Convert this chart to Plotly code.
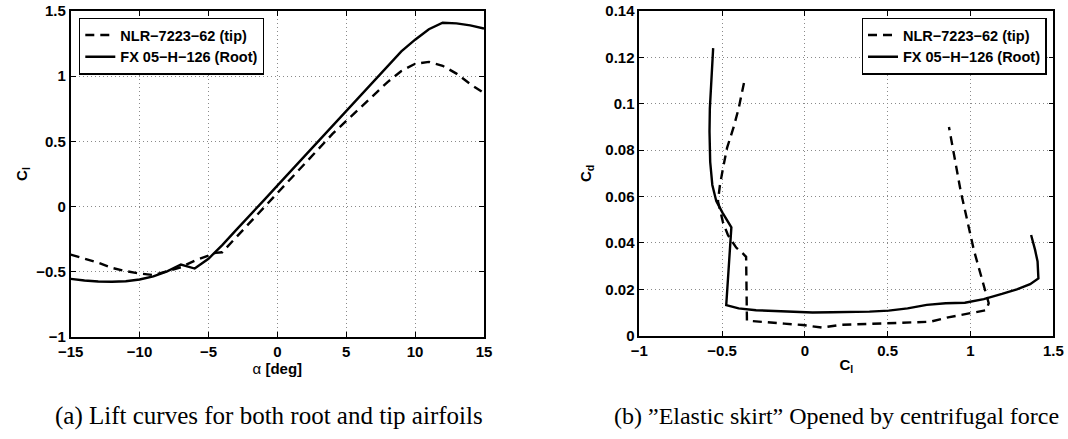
import plotly.graph_objects as go

# ---- data ----
alpha_root = [-15, -14, -13, -12, -11, -10, -9, -8, -7, -6, -5, -4, -3, -2, -1, 0,
              1, 2, 3, 4, 5, 6, 7, 8, 9, 10, 11, 12, 13, 14, 15]
cl_root = [-0.554, -0.567, -0.574, -0.576, -0.572, -0.559, -0.535, -0.497, -0.444, -0.475,
           -0.40, -0.295, -0.18, -0.07, 0.046, 0.161, 0.276, 0.39, 0.506, 0.62, 0.736,
           0.85, 0.966, 1.08, 1.19, 1.28, 1.36, 1.41, 1.405, 1.39, 1.366]
cd_root = [0.124, 0.110, 0.098, 0.088, 0.075, 0.065, 0.058, 0.053, 0.0467, 0.0132,
           0.0118, 0.0110, 0.0106, 0.0102, 0.0100, 0.0101, 0.0102, 0.0104, 0.0108, 0.0118,
           0.0133, 0.0140, 0.0142, 0.0158, 0.0180, 0.0200, 0.0222, 0.0247, 0.032, 0.037, 0.0434]

alpha_tip = [-15, -14, -13, -12, -11, -10, -9, -8, -7, -6, -5, -4.5, -4, -3, -2, -1, 0,
             1, 2, 3, 4, 5, 6, 7, 8, 9, 10, 11, 12, 13, 14, 15]
cl_tip = [-0.368, -0.40, -0.43, -0.47, -0.495, -0.513, -0.525, -0.495, -0.465, -0.415,
          -0.375, -0.355, -0.35, -0.236, -0.125, -0.013, 0.103, 0.22, 0.335, 0.45, 0.557,
          0.657, 0.757, 0.857, 0.955, 1.04, 1.095, 1.11, 1.08, 1.02, 0.94, 0.87]
cd_tip = [0.109, 0.098, 0.090, 0.081, 0.072, 0.065, 0.058, 0.049, 0.0434, 0.038,
          0.0355, 0.034, 0.0065, 0.0057, 0.0052, 0.0046, 0.0035, 0.0047, 0.0050, 0.0052,
          0.0054, 0.0058, 0.0060, 0.0078, 0.0090, 0.0103, 0.0110, 0.0140, 0.022, 0.037,
          0.0626, 0.090]

name_tip = "NLR−7223−62 (tip)"
name_root = "FX 05−H−126 (Root)"
caption_a = "(a) Lift curves for both root and tip airfoils"
caption_b = "(b) \u201dElastic skirt\u201d Opened by centrifugal force"

# ---- figure ----
W, H = 1068, 439
FONT = "Liberation Sans, Arial, Helvetica, sans-serif"
dash = "9px,6px"
lw = 2.4


def px(v):
    return v / W


def py(v):
    return 1 - v / H


fig = go.Figure()
fig.add_trace(go.Scatter(x=alpha_tip, y=cl_tip, mode="lines", name=name_tip,
                         line=dict(color="black", width=lw, dash=dash),
                         xaxis="x", yaxis="y", legend="legend"))
fig.add_trace(go.Scatter(x=alpha_root, y=cl_root, mode="lines", name=name_root,
                         line=dict(color="black", width=lw),
                         xaxis="x", yaxis="y", legend="legend"))
fig.add_trace(go.Scatter(x=cl_tip, y=cd_tip, mode="lines", name=name_tip,
                         line=dict(color="black", width=lw, dash=dash),
                         xaxis="x2", yaxis="y2", legend="legend2"))
fig.add_trace(go.Scatter(x=cl_root, y=cd_root, mode="lines", name=name_root,
                         line=dict(color="black", width=lw),
                         xaxis="x2", yaxis="y2", legend="legend2"))

tickfont = dict(family=FONT, size=15, color="black", weight="bold")
common = dict(showline=True, linecolor="black", linewidth=1.6, mirror="allticks",
              ticks="inside", ticklen=5, tickcolor="black", tickwidth=1,
              showgrid=True, gridcolor="#8a8a8a", griddash="1px,3px", gridwidth=1,
              zeroline=False, tickfont=tickfont, automargin=False)
legfont = dict(family=FONT, size=14.5, color="black", weight="bold")

fig.update_layout(
    width=W, height=H, margin=dict(l=0, r=0, t=0, b=0, autoexpand=False),
    paper_bgcolor="white", plot_bgcolor="white",
    font=dict(family=FONT, color="black"),
    xaxis=dict(domain=[px(70.7), px(484)], range=[-15, 15], tickvals=[-15, -10, -5, 0, 5, 10, 15],
               anchor="y", title=dict(text="α <b>[deg]</b>", standoff=2,
                                      font=dict(size=15, family=FONT)), **common),
    yaxis=dict(domain=[py(337), py(11)], range=[-1, 1.5], tickvals=[-1, -0.5, 0, 0.5, 1, 1.5],
               anchor="x", title=dict(text="<b>C<sub>l</sub></b>", standoff=5,
                                      font=dict(size=15, family=FONT)), **common),
    xaxis2=dict(domain=[px(639.3), px(1053.3)], range=[-1, 1.5], tickvals=[-1, -0.5, 0, 0.5, 1, 1.5],
                anchor="y2", title=dict(text="<b>C<sub>l</sub></b>", standoff=2,
                                        font=dict(size=15, family=FONT)), **common),
    yaxis2=dict(domain=[py(335.7), py(11)], range=[0, 0.14],
                tickvals=[0, 0.02, 0.04, 0.06, 0.08, 0.1, 0.12, 0.14],
                ticktext=["0", "0.02", "0.04", "0.06", "0.08", "0.1", "0.12", "0.14"],
                anchor="x2", title=dict(text="<b>C<sub>d</sub></b>", standoff=10,
                                        font=dict(size=15, family=FONT)), **common),
    legend=dict(x=px(79), y=py(17.7), xanchor="left", yanchor="top", xref="paper", yref="paper",
                bgcolor="white", bordercolor="black", borderwidth=1.3, font=legfont,
                tracegroupgap=0, itemwidth=30),
    legend2=dict(x=px(1046.7), y=py(17.7), xanchor="right", yanchor="top", xref="paper", yref="paper",
                 bgcolor="white", bordercolor="black", borderwidth=1.3, font=legfont,
                 tracegroupgap=0, itemwidth=30),
    showlegend=True,
)

fig.add_annotation(text=caption_a, xref="paper", yref="paper", x=px(268.5), y=py(415.5),
                   xanchor="center", yanchor="middle", showarrow=False,
                   font=dict(family="Liberation Serif, DejaVu Serif, serif", size=25, color="black"))
fig.add_annotation(text=caption_b, xref="paper", yref="paper", x=px(836), y=py(415.5),
                   xanchor="center", yanchor="middle", showarrow=False,
                   font=dict(family="Liberation Serif, DejaVu Serif, serif", size=24, color="black"))

# remove the browser's default 8px body margin so the figure fills the window exactly
fig.write_html("out.html", config={"displayModeBar": False},
               post_script="document.body.style.margin='0px';")
